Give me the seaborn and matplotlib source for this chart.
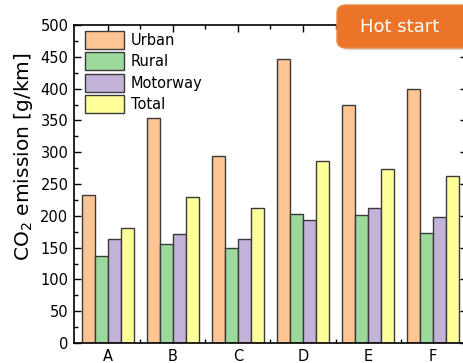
import pandas as pd
import matplotlib
matplotlib.use("Agg")
import matplotlib.pyplot as plt
import seaborn as sns
from matplotlib.patches import FancyBboxPatch
from matplotlib.ticker import MultipleLocator, FixedLocator

# data
vehicles = ["A", "B", "C", "D", "E", "F"]
phases = ["Urban", "Rural", "Motorway", "Total"]
urban = [233, 353, 294, 446, 375, 399]
rural = [137, 155, 150, 203, 202, 173]
motorway = [164, 171, 164, 193, 213, 198]
total = [181, 229, 212, 286, 274, 262]
colors = ["#FDC593", "#9DD89D", "#C3B3D9", "#FFFF99"]

rows = []
for name, vals in zip(phases, [urban, rural, motorway, total]):
    for v, val in zip(vehicles, vals):
        rows.append({"vehicle": v, "phase": name, "emission": val})
df = pd.DataFrame(rows)

sns.set_style("ticks")
plt.rcParams["font.family"] = ["DejaVu Sans"]
plt.rcParams["text.color"] = "black"
plt.rcParams["axes.labelcolor"] = "black"
plt.rcParams["xtick.color"] = "black"
plt.rcParams["ytick.color"] = "black"

fig = plt.figure(figsize=(4.64, 3.63), dpi=100)
ax = fig.add_axes([74 / 464, 20 / 363, 393 / 464, 318 / 363])

sns.barplot(data=df, x="vehicle", y="emission", hue="phase", order=vehicles,
            hue_order=phases, palette=colors, saturation=1, width=0.8,
            edgecolor="#3a3a3a", linewidth=1.0, ax=ax)

ax.set_xlim(-0.52, 5.52)
ax.set_ylim(0, 500)
ax.yaxis.set_major_locator(MultipleLocator(50))
ax.yaxis.set_minor_locator(MultipleLocator(25))
ax.xaxis.set_minor_locator(FixedLocator([0.5, 1.5, 2.5, 3.5, 4.5]))
ax.tick_params(which="both", top=True, right=True, direction="in",
               width=1.0, color="black", labelcolor="black")
ax.tick_params(which="major", length=5, labelsize=10.5, pad=4)
ax.tick_params(which="minor", length=3)
for s in ax.spines.values():
    s.set_visible(True)
    s.set_linewidth(1.2)
    s.set_color("black")

ax.set_xlabel("")
ax.set_ylabel("CO$_2$ emission [g/km]", fontsize=14.5)
ax.yaxis.set_label_coords(-0.098, 0.585)

leg = ax.legend(loc="upper left", bbox_to_anchor=(11 / 393, 1 - 6 / 318),
                frameon=False, fontsize=10.5, handlelength=2.7,
                handleheight=1.5, labelspacing=0.25, handletextpad=0.45,
                borderpad=0, borderaxespad=0)
for t in leg.get_texts():
    t.set_color("black")

# "Hot start" badge
shadow = FancyBboxPatch((340 / 464, 1 - 50 / 363), 140 / 464, 43 / 363,
                        boxstyle="round,pad=0,rounding_size=0.02",
                        transform=fig.transFigure, facecolor="#b0b0b0",
                        edgecolor="none", alpha=0.5, zorder=9)
badge = FancyBboxPatch((337 / 464, 1 - 48 / 363), 140 / 464, 43 / 363,
                       boxstyle="round,pad=0,rounding_size=0.02",
                       transform=fig.transFigure, facecolor="#EC7428",
                       edgecolor="#F08A48", linewidth=1, zorder=10)
fig.patches.extend([shadow, badge])
fig.text(400 / 464, 1 - 27 / 363, "Hot start", color="white", fontsize=13,
         ha="center", va="center", zorder=11)

fig.savefig("out.png", dpi=100)
